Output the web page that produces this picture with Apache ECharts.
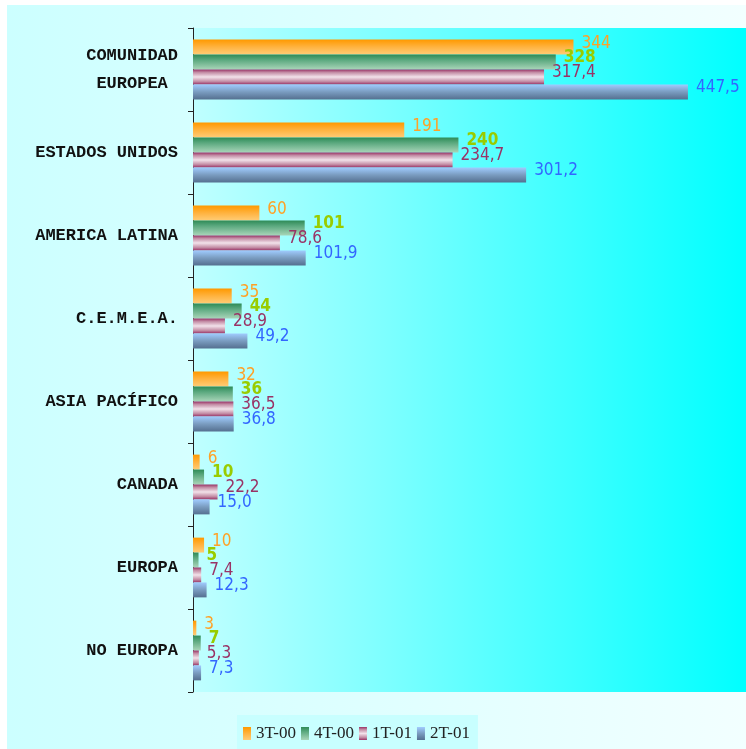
<!DOCTYPE html>
<html>
<head>
<meta charset="utf-8">
<script src="https://cdn.jsdelivr.net/npm/echarts@6/dist/echarts.min.js"></script>
<style>
    html, body { margin: 0; padding: 0; background: #fff; }
    #chart_div { width: 746px; height: 749px; }
</style>
</head>
<body>
<div id="chart_div"></div>
<script>
    // datos
    var categorias = ['COMUNIDAD\nEUROPEA ', 'ESTADOS UNIDOS', 'AMERICA LATINA', 'C.E.M.E.A.', 'ASIA PACÍFICO', 'CANADA', 'EUROPA', 'NO EUROPA'];
    var serie_3T00 = [344, 191, 60, 35, 32, 6, 10, 3];
    var serie_4T00 = [328, 240, 101, 44, 36, 10, 5, 7];
    var serie_1T01 = [317.4, 234.7, 78.6, 28.9, 36.5, 22.2, 7.4, 5.3];
    var serie_2T01 = [447.5, 301.2, 101.9, 49.2, 36.8, 15.0, 12.3, 7.3];
    var nombres = ['3T-00', '4T-00', '1T-01', '2T-01'];

    function grad(stops) {
        return new echarts.graphic.LinearGradient(0, 0, 0, 1, stops.map(function (s) {
            return {offset: s[0], color: s[1]};
        }));
    }

    function coma(v) {
        return v.toFixed(1).replace('.', ',');
    }

    // fuente estrecha: DejaVu Sans en su variante condensed
    var fuenteNum = "'DejaVu Sans', sans-serif";

    function serie(nombre, datos, color, colorLabel, decimal, negrita) {
        return {
            name: nombre,
            type: 'bar',
            data: datos,
            barGap: '0%',
            barCategoryGap: '28%',
            itemStyle: {color: color},
            label: {
                show: true,
                position: 'right',
                distance: 8,
                offset: [0, -4],
                color: colorLabel,
                fontFamily: fuenteNum,
                fontSize: 17,
                fontWeight: negrita ? 'bold condensed' : 'condensed',
                formatter: function (p) {
                    return decimal ? coma(p.value) : String(p.value);
                }
            }
        };
    }

    var myChart = echarts.init(document.getElementById('chart_div'));
    myChart.setOption({
        backgroundColor: '#ffffff',
        animation: false,
        graphic: [{
            type: 'rect',
            z: -10,
            silent: true,
            shape: {x: 7, y: 5, width: 739, height: 744},
            style: {fill: new echarts.graphic.LinearGradient(0, 0, 1, 0, [
                {offset: 0, color: '#ccffff'}, {offset: 1, color: '#f2ffff'}
            ])}
        }],
        grid: {
            left: 193, right: 0, top: 28, bottom: 57,
            show: true,
            borderWidth: 0,
            backgroundColor: new echarts.graphic.LinearGradient(0, 0, 1, 0, [
                {offset: 0, color: '#c0ffff'}, {offset: 1, color: '#00ffff'}
            ])
        },
        legend: {
            data: nombres,
            left: 237,
            top: 715,
            backgroundColor: '#c8ffff',
            padding: [10, 8, 12, 6],
            itemWidth: 8,
            itemHeight: 13,
            itemGap: 5,
            icon: 'rect',
            textStyle: {fontFamily: "'Liberation Serif', serif", fontSize: 17, color: '#222'}
        },
        xAxis: {
            type: 'value',
            min: 0,
            max: 500,
            show: false,
            splitLine: {show: false}
        },
        yAxis: {
            type: 'category',
            data: categorias,
            inverse: true,
            axisLine: {show: true, lineStyle: {color: '#222', width: 1}},
            axisTick: {show: true, length: 5, lineStyle: {color: '#222'}},
            axisLabel: {
                margin: 15,
                fontFamily: "'Liberation Mono', monospace",
                fontWeight: 'bold',
                fontSize: 17,
                lineHeight: 28,
                color: '#111'
            }
        },
        series: [
            serie('3T-00', serie_3T00, grad([[0, '#ff9900'], [0.5, '#ffb340'], [1, '#ffcc77']]), '#ffa126', false, false),
            serie('4T-00', serie_4T00, grad([[0, '#2e8b57'], [0.35, '#5aa87e'], [1, '#a9d5b9']]), '#99cc00', false, true),
            serie('1T-01', serie_1T01, grad([[0, '#993366'], [0.2, '#c48ea6'], [0.5, '#f2e2ea'], [0.8, '#c48ea6'], [1, '#993366']]), '#993366', true, false),
            serie('2T-01', serie_2T01, grad([[0, '#a0ccff'], [0.5, '#7a9cc0'], [1, '#557090']]), '#3366ff', true, false)
        ]
    });
</script>
</body>
</html>
